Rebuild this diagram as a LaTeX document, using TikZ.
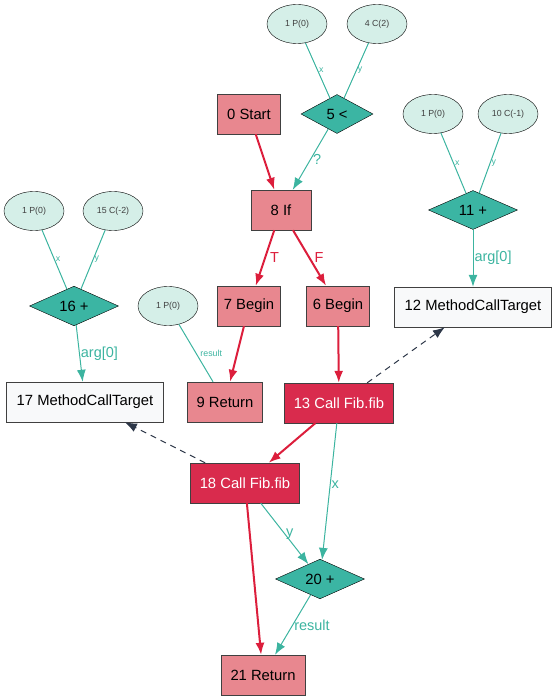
\documentclass[tikz,border=0pt]{standalone}
\usepackage{fontspec}
\setmainfont{Liberation Sans}
\usetikzlibrary{shapes.geometric, arrows.meta}

\definecolor{ctrlfill}{HTML}{E8878F}
\definecolor{callfill}{HTML}{D92B4D}
\definecolor{opfill}{HTML}{3BB5A3}
\definecolor{argfill}{HTML}{D5EFE8}
\definecolor{targetfill}{HTML}{F8F9FA}
\definecolor{ctrledge}{HTML}{DC1E3C}
\definecolor{dataedge}{HTML}{3CB4A0}
\definecolor{refedge}{HTML}{2D3748}

\begin{document}
\begin{tikzpicture}[x=1pt,y=-1pt]

\tikzset{block/.style = {shape=rectangle,draw=darkgray,fill=ctrlfill,minimum height=40pt,inner sep=0pt,font=\fontsize{14.8}{16}\selectfont}}
\tikzset{call/.style = {block,fill=callfill,text=white,minimum width=109pt}}
\tikzset{target/.style = {block,fill=targetfill,minimum width=157pt}}
\tikzset{op/.style = {shape=diamond,draw=black,fill=opfill,minimum width=89pt,minimum height=39pt,inner sep=0pt,font=\fontsize{14.8}{16}\selectfont}}
\tikzset{arg/.style = {shape=ellipse,draw=black,fill=argfill,minimum width=60pt,minimum height=39pt,inner sep=0pt,text=darkgray,font=\fontsize{8.8}{10}\selectfont}}
\tikzset{flow/.style = {-{Latex[length=12pt,width=9pt]},draw=ctrledge,line width=2pt}}
\tikzset{data/.style = {-{Latex[length=12pt,width=9pt]},draw=dataedge,line width=1pt}}
\tikzset{input/.style = {draw=dataedge,line width=1pt}}
\tikzset{ref/.style = {-{Latex[length=12pt,width=9pt]},draw=refedge,line width=1pt,dash pattern=on 6pt off 5pt}}
\tikzset{big/.style = {inner sep=1pt,font=\fontsize{14.5}{16}\selectfont}}
\tikzset{small/.style = {inner sep=1pt,font=\fontsize{8.8}{10}\selectfont}}

\useasboundingbox (0,0) rectangle (556,700);

%control nodes
\node[block, minimum width=63pt] (n0) at (249,114) {0 Start};
\node[block, minimum width=60pt] (n8) at (281,210) {8 If};
\node[block, minimum width=63pt] (n7) at (249,306) {7 Begin};
\node[block, minimum width=63pt] (n6) at (338,306) {6 Begin};
\node[block, minimum width=75pt] (n9) at (225,402) {9 Return};
\node[call] (n13) at (339,403) {13 Call Fib.fib};
\node[call] (n18) at (245,483) {18 Call Fib.fib};
\node[block, minimum width=84pt] (n21) at (263,675) {21 Return};
\node[target] (n17) at (85,402) {17 MethodCallTarget};
\node[target] (n12) at (473,307) {12 MethodCallTarget};
%operators
\node[op, minimum width=72pt] (n5) at (337,114) {5 <};
\node[op] (n16) at (74,306) {16 +};
\node[op] (n11) at (473,210) {11 +};
\node[op] (n20) at (320,579) {20 +};
%arguments
\node[arg] (p0a) at (297,24) {1 P(0)};
\node[arg] (c4) at (377,24) {4 C(2)};
\node[arg] (p0b) at (34,211) {1 P(0)};
\node[arg] (c15) at (113,211) {15 C(-2)};
\node[arg] (p0c) at (168,306) {1 P(0)};
\node[arg] (p0d) at (433,114) {1 P(0)};
\node[arg] (c10) at (508,114) {10 C(-1)};

%control edges
\draw[flow] (n0) -- (n8);
\draw[flow] (n8) -- (n7) node [midway, right, big, text=ctrledge, xshift=3pt] {T};
\draw[flow] (n8) -- (n6) node [midway, right, big, text=ctrledge, xshift=3pt] {F};
\draw[flow] (n7) -- (n9);
\draw[flow] (n6) -- (n13);
\draw[flow] (n13) -- (n18);
\draw[flow] (n18) -- (n21);
%data edges
\draw[input] (p0a) -- (n5) node [midway, right, small, text=dataedge] {x};
\draw[input] (c4) -- (n5) node [midway, right, small, text=dataedge] {y};
\draw[data] (n5) -- (n8) node [midway, right, big, text=dataedge, xshift=1pt] {?};
\draw[input] (p0b) -- (n16) node [midway, right, small, text=dataedge] {x};
\draw[input] (c15) -- (n16) node [midway, right, small, text=dataedge] {y};
\draw[data] (n16) -- (n17) node [midway, right, big, text=dataedge] {arg[0]};
\draw[input] (p0d) -- (n11) node [midway, right, small, text=dataedge] {x};
\draw[input] (c10) -- (n11) node [midway, right, small, text=dataedge] {y};
\draw[data] (n11) -- (n12) node [midway, right, big, text=dataedge] {arg[0]};
\draw[input] (p0c) -- (n9) node [midway, right, small, text=dataedge, xshift=3pt] {result};
\draw[data] (n13) -- (n20) node [pos=0.45, right, big, text=dataedge] {x};
\draw[data] (n18) -- (n20) node [midway, right, big, text=dataedge] {y};
\draw[data] (n20) -- (n21) node [midway, right, big, text=dataedge] {result};
%target references
\draw[ref] (n13) -- (n12);
\draw[ref] (n18) -- (n17);

\end{tikzpicture}
\end{document}
